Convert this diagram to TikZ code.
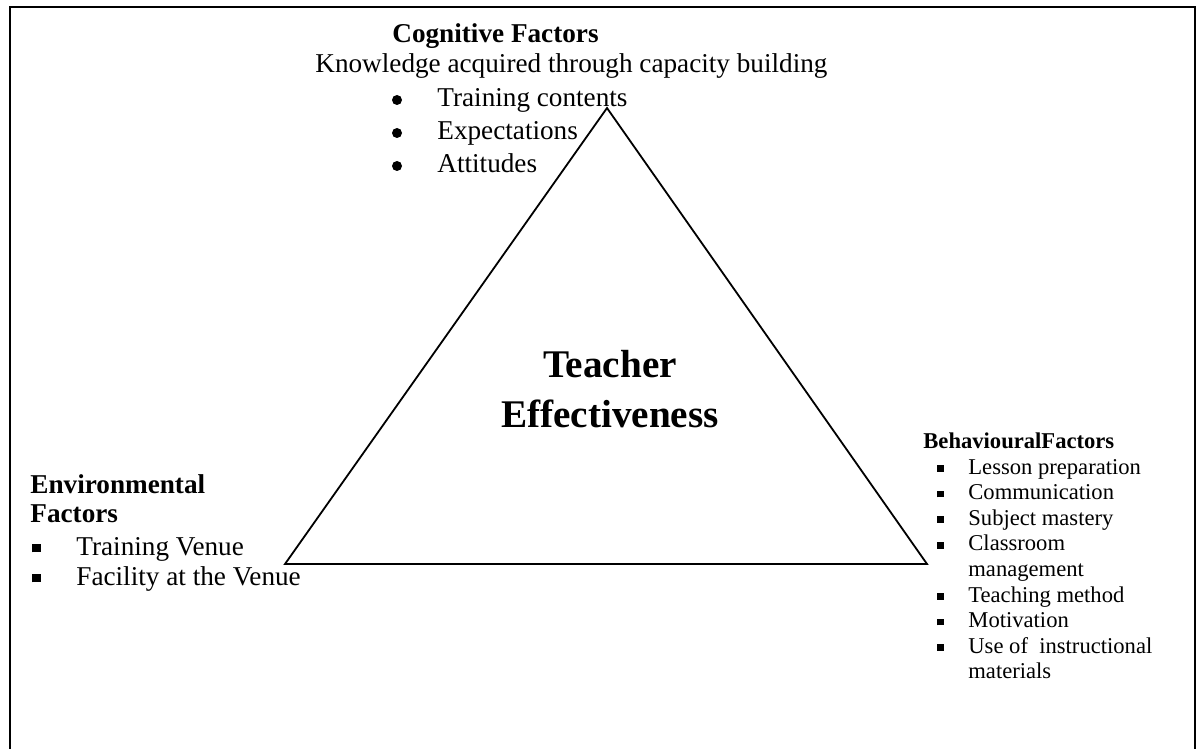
\documentclass[tikz,border=0pt]{standalone}
\usepackage{fontspec}
\setmainfont{Liberation Serif}
\usepackage{tikz}

% square bullet as used in the side lists
\newcommand{\sqbullet}{\rule[0.1em]{0.3em}{0.3em}}

\begin{document}
\begin{tikzpicture}[x=0.5pt,y=-0.5pt,
    txt/.style={anchor=base west, inner sep=0pt},
    body/.style={txt, font=\fontsize{13.6}{16.5}\selectfont},
    bodybf/.style={txt, font=\fontsize{13.6}{16.5}\selectfont\bfseries},
    small/.style={txt, font=\fontsize{11.3}{12.8}\selectfont},
    smallbf/.style={txt, font=\fontsize{11.3}{12.8}\selectfont\bfseries},
    dot/.style={circle, fill, inner sep=0pt, minimum size=5pt}]
    \useasboundingbox (0,0) rectangle (1200,749);

    % Outer frame, left open at the bottom.
    \draw[line width=1.2pt] (10,749) -- (10,7) -- (1195,7) -- (1195,749);

    % Corners of the triangle.
    \coordinate (apex) at (607,108);
    \coordinate (left) at (285,564);
    \coordinate (right) at (927,564);
    \draw[line width=0.9pt] (apex) -- (left) -- (right) -- cycle;

    % Label in the middle of the triangle (base = last line).
    \node[anchor=base, inner sep=0pt, align=center,
          font=\fontsize{19.6}{25}\selectfont\bfseries] (te) at (610,427)
        {Teacher\\Effectiveness};

    % Top corner: cognitive factors.
    \node[bodybf] (cog) at (392,43) {Cognitive Factors};
    \node[body] (know) at (315,73) {Knowledge acquired through capacity building};
    \foreach \t [count=\i] in {Training contents, Expectations, Attitudes} {
        \node[dot] (cogb-\i) at (397,{100+33*(\i-1)}) {};
        \node[body] (cog-\i) at (437,{107+33*(\i-1)}) {\t};
    }

    % Left corner: environmental factors.
    \node[bodybf] (env) at (30,493) {Environmental};
    \node[bodybf] (envf) at (30,522) {Factors};
    \foreach \t [count=\i] in {Training Venue, Facility at the Venue} {
        \node[body] (envb-\i) at (32,{555+30*(\i-1)}) {\sqbullet};
        \node[body] (env-\i) at (76,{555+30*(\i-1)}) {\t};
    }

    % Right corner: behavioural factors.
    \node[smallbf] (beh) at (923,448) {BehaviouralFactors};
    \foreach \n/\t in {0/Lesson preparation, 1/Communication, 2/Subject mastery,
                       3/Classroom, 5/Teaching method, 6/Motivation,
                       7/Use of~ instructional} {
        \node[small] (behb-\n) at (937,{474+25.6*\n}) {\sqbullet};
        \node[small] (beh-\n) at (968,{474+25.6*\n}) {\t};
    }
    \node[small] (beh-4) at (968,{474+25.6*4}) {management};
    \node[small] (beh-8) at (968,{474+25.6*8}) {materials};
\end{tikzpicture}
\end{document}
